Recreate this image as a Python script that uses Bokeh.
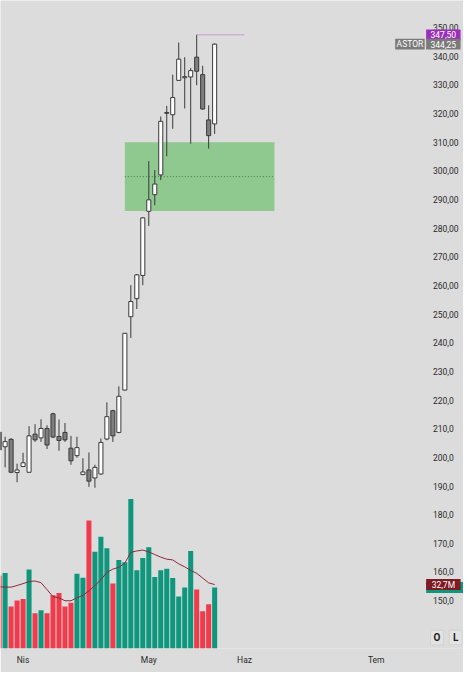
from bokeh.plotting import figure
from bokeh.models import Range1d, FixedTicker, CustomJSTickFormatter, ColumnDataSource
from bokeh.core.properties import value
from bokeh.embed import file_html
from bokeh.resources import INLINE

# ---------------- data ----------------
opens = [208.8, 203.7, 206.3, 194.7, 196.8, 194.8, 208.1, 206.8, 210.1, 215.2,
         207.3, 208.7, 203.2, 200.6, 194.0, 195.6, 192.8, 194.2, 206.4, 216.3,
         208.7, 223.5, 249.1, 255.4, 263.5, 285.9, 291.7, 298.6, 320.1, 319.6,
         331.6, 332.5, 332.8, 339.7, 333.6, 317.8, 316.4]
highs = [209.5, 207.2, 206.7, 197.8, 201.6, 210.9, 211.6, 213.3, 211.2, 215.6,
         213.2, 212.0, 207.5, 207.2, 199.7, 201.7, 197.4, 206.6, 219.2, 216.6,
         224.8, 243.4, 260.1, 264.0, 283.8, 303.4, 300.3, 319.0, 322.7, 333.6,
         344.8, 339.7, 335.9, 347.5, 336.7, 322.9, 344.5]
lows = [202.2, 196.5, 194.5, 191.3, 196.8, 194.7, 205.4, 205.4, 202.9, 206.7,
        202.3, 205.4, 197.4, 199.9, 194.0, 189.7, 189.4, 194.0, 206.0, 205.4,
        208.4, 223.3, 241.7, 251.8, 260.1, 280.8, 288.0, 296.8, 305.1, 314.7,
        331.4, 321.8, 309.5, 329.9, 321.4, 307.8, 312.9]
closes = [202.6, 205.5, 194.8, 195.6, 198.1, 207.5, 206.1, 210.1, 204.3, 207.1,
          205.9, 206.1, 198.8, 203.4, 194.9, 191.7, 196.5, 205.2, 214.2, 207.5,
          221.3, 243.3, 254.4, 263.7, 283.6, 289.9, 295.4, 317.3, 320.4, 325.6,
          339.0, 332.9, 335.0, 334.8, 321.6, 312.3, 344.25]
volumes_m = [39.2, 40.5, 22.5, 25.7, 26.5, 42.4, 18.9, 20.5, 18.9, 28.5,
             29.7, 22.5, 24.6, 40.1, 38.0, 68.7, 51.9, 59.9, 53.7, 34.8,
             47.4, 46.3, 80.2, 41.9, 48.6, 54.3, 38.4, 41.9, 42.8, 37.8,
             27.9, 32.7, 52.3, 31.6, 20.0, 23.7, 32.7]
volume_ma_m = [33.1, 32.9, 32.9, 33.8, 34.8, 35.9, 36.2, 35.3, 31.6, 27.8,
               27.2, 25.6, 25.6, 27.2, 28.5, 30.9, 33.8, 36.9, 40.8, 42.6,
               43.5, 45.8, 51.6, 52.3, 52.8, 51.8, 50.4, 49.0, 47.9, 47.5,
               45.4, 43.8, 41.9, 40.3, 37.8, 35.2, 34.3]
volume_up = [False, True, False, False, False, True, False, True, False, False,
             False, False, False, True, True, False, True, True, True, False,
             True, True, True, True, True, True, True, True, True, True,
             True, True, True, False, False, False, True]

month_bar_index = [4, 25, 41, 63]
month_labels = ["Nis", "May", "Haz", "Tem"]
price_ticks = list(range(150, 360, 10))
price_tick_labels = [(f"{t:.2f}" if t >= 250 else f"{t:.1f}").replace(".", ",")
                     for t in price_ticks]

zone_start_bar = 21
zone_end_bar = 46
zone_low = 286.0
zone_high = 310.0

high_line_end_bar = 41
symbol = "ASTOR"
volume_label = "32,7M"
corner_buttons = ["O", "L"]

# ---------------- layout / style constants ----------------
W, H = 463, 672
SX, SY = W / 471, H / 680          # reference px -> figure px
FRAME_H = round(656 * SY)
PX_PER_BAR = 6.09 * SX
BAR0_X = -1.4 * SX                 # figure x of bar 0
PX_PER_PRICE = 2.9 * SY
P350_Y = 27.5 * SY                 # figure y of price 350
VOL_PER_PX = 0.53 / SY


def bar_at(ref_px):
    """bar-index coordinate of a horizontal reference pixel"""
    return (ref_px * SX - BAR0_X) / PX_PER_BAR


def price_at(ref_py):
    return 350 - (ref_py * SY - P350_Y) / PX_PER_PRICE


x_start = bar_at(0)
x_end = bar_at(471)
y_end = price_at(0)
y_start = price_at(656)

BG = "#dcdcdc"
TXT = "#2a2a2a"
FONT = "Roboto"
FS = "8.5px"

n = len(opens)
idx = list(range(n))
up = [c >= o for o, c in zip(opens, closes)]
src = ColumnDataSource(dict(
    x=idx, o=opens, h=highs, l=lows, c=closes,
    top=[max(o, c) for o, c in zip(opens, closes)],
    bot=[min(o, c) for o, c in zip(opens, closes)],
    fill=["#ffffff" if u else "#7e7e7e" for u in up],
    vol=volumes_m, ma=volume_ma_m,
    vcol=["#0f977e" if u else "#ef3b4c" for u in volume_up],
))

p = figure(width=W, height=H, output_backend="svg", toolbar_location=None,
           x_range=Range1d(x_start, x_end), y_range=Range1d(y_start, y_end),
           y_axis_location=None, min_border_left=0, min_border_top=0,
           min_border_right=0, min_border_bottom=H - FRAME_H)
p.extra_y_ranges = {"vol": Range1d(0, FRAME_H * VOL_PER_PX)}
p.background_fill_color = BG
p.border_fill_color = BG
p.outline_line_color = None
p.xgrid.visible = False
p.ygrid.visible = False

# time axis
xax = p.xaxis[0]
xax.ticker = FixedTicker(ticks=month_bar_index)
xax.formatter = CustomJSTickFormatter(args=dict(t=month_bar_index, l=month_labels), code="""
    for (let i = 0; i < t.length; i++) { if (Math.abs(tick - t[i]) < 1e-6) return l[i]; }
    return "";
""")
xax.axis_line_color = None
xax.major_tick_line_color = None
xax.minor_tick_line_color = None
xax.major_label_text_font = FONT
xax.major_label_text_font_size = FS
xax.major_label_text_color = TXT
xax.major_label_standoff = 0

# price scale labels (right strip)
p.text(x=[bar_at(440)] * len(price_ticks), y=price_ticks, text=price_tick_labels,
       text_font=value(FONT), text_font_size=FS, text_color=TXT,
       text_align="left", text_baseline="middle")

# zone box
p.quad(left=[zone_start_bar], right=[zone_end_bar], bottom=[zone_low], top=[zone_high],
       fill_color="#8fc98f", line_color=None)
mid = (zone_low + zone_high) / 2
p.segment(x0=[zone_start_bar], x1=[zone_end_bar], y0=[mid], y1=[mid],
          line_color="#3f7f45", line_width=1, line_dash="1 2")

# volume
p.vbar(x="x", top="vol", bottom=0, width=0.84, source=src, fill_color="vcol",
       line_color=None, y_range_name="vol")
p.line(x="x", y="ma", source=src, line_color="#8b2a3a", line_width=1, y_range_name="vol")

# candles
p.segment(x0="x", x1="x", y0="l", y1="h", source=src, line_color="#3a3a3a", line_width=1)
p.vbar(x="x", top="top", bottom="bot", width=0.68, source=src, fill_color="fill",
       line_color="#3a3a3a", line_width=1)

# high marker line
hi_bar = max(idx, key=lambda i: highs[i])
p.segment(x0=[hi_bar], x1=[high_line_end_bar], y0=[highs[hi_bar]], y1=[highs[hi_bar]],
          line_color="#c79ad2", line_width=1)


def fmt(v):
    return f"{v:.2f}".replace(".", ",")


def tag(ref_left, ref_right, y, text, color, y_range_name="default"):
    cx = bar_at((ref_left + ref_right) / 2)
    kw = {} if y_range_name == "default" else {"y_range_name": y_range_name}
    p.rect(x=[cx], y=[y], width=(ref_right - ref_left) * SX, width_units="screen",
           height=11 * SY, height_units="screen", fill_color=color, line_color=None, **kw)
    p.text(x=[cx], y=[y], text=[text], text_font=value(FONT), text_font_size=FS,
           text_color="#ffffff", text_align="center", text_baseline="middle", **kw)


tag(433, 468, highs[hi_bar], fmt(highs[hi_bar]), "#9b2fb8")
tag(433, 468, closes[-1], fmt(closes[-1]), "#7a7a7a")
tag(401.5, 431.5, closes[-1], symbol, "#7a7a7a")
tag(433, 473, volumes_m[-1], "", "#0f977e", "vol")
tag(433, 468, volume_ma_m[-1], volume_label, "#7e1a22", "vol")

# corner buttons
btn_y = price_at(645)
for txt, ref_cx in zip(corner_buttons, (444, 463)):
    bx = bar_at(ref_cx)
    p.rect(x=[bx], y=[btn_y], width=13 * SX, height=15 * SY, width_units="screen",
           height_units="screen", fill_color="#e3e3e3", line_color="#d2d2d2", line_width=1)
    p.text(x=[bx], y=[btn_y], text=[txt], text_font=value(FONT), text_font_size="10px",
           text_font_style="bold", text_color="#1e1e1e", text_align="center",
           text_baseline="middle")

open("out.html", "w").write(file_html(p, INLINE))
